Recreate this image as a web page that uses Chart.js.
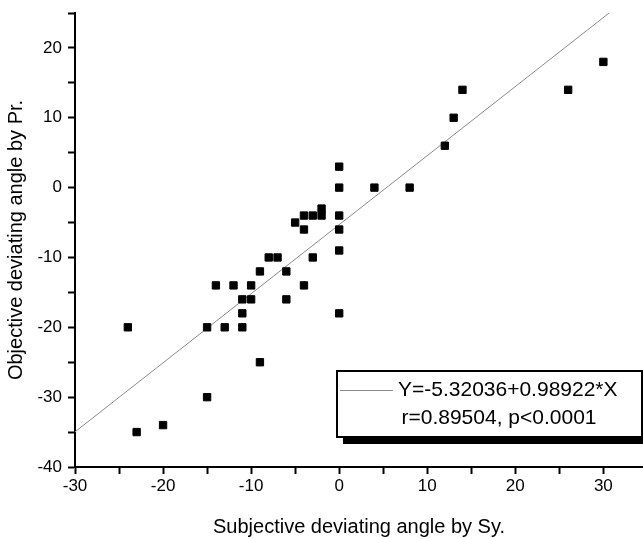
<!DOCTYPE html>
<html>
<head>
<meta charset="utf-8">
<script src="https://cdn.jsdelivr.net/npm/chart.js@4.4.1/dist/chart.umd.min.js"></script>
<style>
  html, body { margin: 0; padding: 0; background: #fff; }
  #wrap { width: 643px; height: 539px; }
</style>
</head>
<body>
<div id="wrap"><canvas id="scatterChart"></canvas></div>
<script>
// measured pairs (subjective angle by Sy., objective angle by Pr.)
const subjAngle = [30, 26, 14, 13, 12, 0, 0, 4, 8, 0, 0, -5, -4, -4, -3, -2, -2, 0, -8, -7,
                   -3, -9, -6, -14, -12, -10, -4, -11, -10, -6, -11, 0, -24, -15, -13, -11, -9, -15, -23, -20];
const objAngle  = [18, 14, 14, 10, 6, 3, 0, 0, 0, -4, -6, -5, -4, -6, -4, -3, -4, -9, -10, -10,
                   -10, -12, -12, -14, -14, -14, -14, -16, -16, -16, -18, -18, -20, -20, -20, -20, -25, -30, -35, -34];

// fitted line end points, Y = -5.32036 + 0.98922*X
const fitX = [-30, 35];
const fitY = [-34.97, 29.3];

const xTicks = [-30, -25, -20, -15, -10, -5, 0, 5, 10, 15, 20, 25, 30];
const yTicks = [-40, -35, -30, -25, -20, -15, -10, -5, 0, 5, 10, 15, 20, 25];

const legendLines = ["Y=-5.32036+0.98922*X", "r=0.89504, p<0.0001"];

const FONT = "'Liberation Sans', Arial, sans-serif";
Chart.defaults.font.family = FONT;
Chart.defaults.color = "#000";

// Origin-style legend box with a drop shadow
const fitLegend = {
    id: "fitLegend",
    afterDraw(chart) {
        const ctx = chart.ctx;
        ctx.save();
        ctx.fillStyle = "#000";
        ctx.fillRect(343, 437, 310, 7);          // shadow
        ctx.fillStyle = "#fff";
        ctx.fillRect(337, 371, 305, 66);
        ctx.strokeStyle = "#000";
        ctx.lineWidth = 2;
        ctx.strokeRect(337, 371, 305, 66);
        ctx.strokeStyle = "#8a8a8a";
        ctx.lineWidth = 1;
        ctx.beginPath();
        ctx.moveTo(340, 390.5);
        ctx.lineTo(393, 390.5);
        ctx.stroke();
        ctx.fillStyle = "#000";
        ctx.font = "21px " + FONT;
        ctx.textBaseline = "middle";
        ctx.textAlign = "left";
        ctx.fillText(legendLines[0], 398, 390);
        ctx.textAlign = "center";
        ctx.fillText(legendLines[1], 499, 418);
        ctx.restore();
    }
};

const ctx = document.getElementById("scatterChart").getContext("2d");

new Chart(ctx, {
    type: "scatter",
    data: {
        datasets: [
            {
                label: "data",
                data: subjAngle.map((x, i) => ({ x: x, y: objAngle[i] })),
                pointStyle: "rect",
                pointRadius: 5.2,
                pointHoverRadius: 5.2,
                backgroundColor: "#000",
                borderColor: "#000",
                borderWidth: 1
            },
            {
                label: "fit",
                data: fitX.map((x, i) => ({ x: x, y: fitY[i] })),
                showLine: true,
                pointRadius: 0,
                borderColor: "#8a8a8a",
                borderWidth: 1
            }
        ]
    },
    options: {
        responsive: true,
        maintainAspectRatio: false,
        animation: false,
        layout: { autoPadding: false, padding: { top: 13, left: 0, right: 0, bottom: 0 } },
        plugins: {
            legend: { display: false },
            tooltip: { enabled: false }
        },
        scales: {
            x: {
                type: "linear",
                min: -30,
                max: 34.5,
                afterBuildTicks: (scale) => { scale.ticks = xTicks.map(v => ({ value: v })); },
                afterFit: (scale) => { scale.height = 72; scale.paddingLeft = 0; scale.paddingRight = 0; },
                ticks: {
                    autoSkip: false,
                    maxRotation: 0,
                    padding: 2,
                    font: { size: 17 },
                    callback: (v) => (v % 10 === 0 ? String(v) : "")
                },
                grid: { drawOnChartArea: false, drawTicks: true, tickLength: 7, tickColor: "#000", tickWidth: 2 },
                border: { display: true, color: "#000", width: 2 },
                title: {
                    display: true,
                    text: "Subjective deviating angle by Sy.",
                    font: { size: 20 },
                    padding: { top: 0, bottom: 0 }
                }
            },
            y: {
                type: "linear",
                min: -40,
                max: 25,
                afterBuildTicks: (scale) => { scale.ticks = yTicks.map(v => ({ value: v })); },
                afterFit: (scale) => { scale.width = 75; scale.paddingTop = 0; scale.paddingBottom = 0; },
                ticks: {
                    autoSkip: false,
                    padding: 6,
                    font: { size: 17 },
                    callback: (v) => (v % 10 === 0 ? String(v) : "")
                },
                grid: { drawOnChartArea: false, drawTicks: true, tickLength: 7, tickColor: "#000", tickWidth: 2 },
                border: { display: true, color: "#000", width: 2 },
                title: {
                    display: true,
                    text: "Objective deviating angle by Pr.",
                    font: { size: 20 },
                    padding: { top: 4, bottom: 0 }
                }
            }
        }
    },
    plugins: [fitLegend]
});
</script>
</body>
</html>
